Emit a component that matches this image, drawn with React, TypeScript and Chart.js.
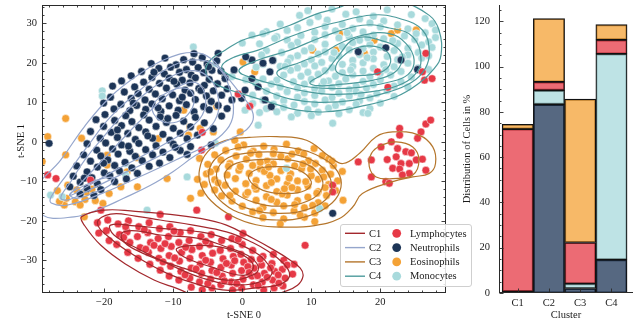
import { useEffect, useRef } from "react";
import { Chart, registerables } from "chart.js";

Chart.register(...registerables);

type Pt = [number, number];

const FONT = "'Liberation Serif', 'Times New Roman', serif";
const TEXT = "#1a1a1a";
const AXIS = "#2a2a2a";

// Cell types shown as scatter markers and as stacked bar segments
const cellTypes = ["Lymphocytes", "Neutrophils", "Eosinophils", "Monocytes"];
const cellColors = ["#e63946", "#1d3557", "#f4a236", "#a8dadc"];

// Clusters shown as density contours and as bar categories
const clusterNames = ["C1", "C2", "C3", "C4"];
const clusterColors = ["#a3282d", "#95a6cc", "#b5762c", "#4d9b9c"];

// Axis ticks
const xTicks = [-20, -10, 0, 10, 20];
const yTicks = [-30, -20, -10, 0, 10, 20, 30];
const barTicks = [0, 20, 40, 60, 80, 100, 120];
const barPositions = [0, 1, 2, 3];

// Composition of each cluster (% of cells), stacked bottom to top
const neutrophilPct = [0.6, 83.3, 2.0, 14.7];
const monocytePct = [0, 6.2, 2.1, 90.9];
const lymphocytePct = [71.8, 3.7, 18.2, 6.2];
const eosinophilPct = [2.1, 28.0, 63.3, 6.7];

// t-SNE embedding, one array per cell type
const lymphocytes: Pt[] = [
  [-21, -20.5], [-20.8, -23.1], [-19.5, -19.8], [-19.7, -22.5], [-19.3, -25], [-18, -20.8], [-17.8, -23.5], [-18.2, -26],
  [-16.5, -20], [-16.7, -22.8], [-16.3, -25.5], [-16.6, -28], [-15, -21.5], [-15.2, -24], [-14.8, -26.8], [-15.1, -29.5],
  [-13.5, -20.5], [-13.7, -23], [-13.3, -25.5], [-13.6, -28], [-13.4, -31], [-12, -22], [-12.2, -24.5], [-11.8, -27],
  [-12.1, -29.5], [-11.9, -32.5], [-10.5, -21.5], [-10.7, -24], [-10.3, -26.5], [-10.6, -28.8], [-10.4, -31.5], [-10.6, -34],
  [-9, -23], [-9.2, -25.5], [-8.8, -28], [-9.1, -30.2], [-8.9, -32.8], [-9.2, -35], [-7.5, -22.5], [-7.7, -25],
  [-7.3, -27.3], [-7.6, -29.5], [-7.4, -32], [-7.6, -34.5], [-7.4, -36.8], [-6, -24], [-6.2, -26.5], [-5.8, -28.8],
  [-6.1, -31], [-5.9, -33.3], [-6.2, -35.5], [-5.8, -37.5], [-4.5, -23.5], [-4.7, -26], [-4.3, -28.2], [-4.6, -30.5],
  [-4.4, -32.6], [-4.6, -34.8], [-4.4, -37], [-3, -25], [-3.2, -27.5], [-2.8, -29.6], [-3.1, -31.8], [-2.9, -34],
  [-3.1, -36.2], [-1.5, -24.5], [-1.7, -27], [-1.3, -29], [-1.6, -31.2], [-1.4, -33.3], [-1.6, -35.5], [-1.4, -37.5],
  [0, -26], [-0.2, -28.5], [0.2, -30.5], [-0.1, -32.6], [0.1, -34.8], [-0.1, -37], [1.5, -27.5], [1.3, -29.8],
  [1.7, -32], [1.4, -34], [1.6, -36.2], [3, -29], [2.8, -31.2], [3.2, -33.3], [2.9, -35.5], [3.1, -37.5],
  [4.5, -28.5], [4.3, -30.8], [4.7, -32.8], [4.4, -35], [4.6, -37], [6, -30], [5.8, -32.3], [6.2, -34.5],
  [5.9, -36.5], [7.5, -31], [7.3, -33.5], [-14.2, -22.3], [-11.2, -25.8], [-8.2, -26.7], [-5.3, -30], [-2.3, -30.8],
  [0.8, -31.6], [2.2, -33.9], [-3.7, -33.1], [-6.7, -32.2], [-9.8, -29.4], [-12.8, -26.2], [-0.8, -35.9], [2.3, -36.4],
  [5.2, -33.7], [-17.2, -24.2], [-20.5, -17.3], [-11.9, -18.4],
  [-1.1, -30.1], [1, -33.1], [3.6, -34.3], [-2.6, -35.2], [4.1, -31.9], [6.5, -31.2], [-5, -35.9], [-8.3, -33.7],
  [-11.5, -30.4], [-14, -27.2], [-16.9, -21.5], [-5.3, -25.2], [-0.6, -24.7], [2.6, -29.7], [5.3, -35.8], [-9.9, -22.6],
  [-6.6, -17.3], [-2, -19], [0.1, -23.2], [9.1, -26.2], [-28.2, -8.4], [-27, -9.3], [-22, -9.7], [-5.9, -2.1],
  [-5.8, 2.4], [1.1, 9], [-0.6, 12.1], [19.6, 17.7], [21.1, 13.8], [26.6, 22.4], [26.1, 17.7], [26.4, 15.6],
  [27.5, 16], [13.1, -11], [13.1, -12.7],
  [22.8, 3.4], [22.8, 1.7], [26.6, 4.5], [25.9, 2.5], [25.4, 0.9], [21.6, 0], [20.1, -1.3], [22.5, -1.7],
  [23.7, -2.5], [22.3, -3.8], [25.2, -4.6], [26.1, -4.4], [23, -5.5], [24.2, -5.5], [21.8, -6.7], [22.8, -6.9],
  [24.2, -8], [26.6, -7.2], [23.2, -8.4], [20.8, -10.1], [21.3, -10.5], [18.7, -8.9], [18.7, -4.6], [16.8, -5.1],
  [27.3, 5.5], [24.5, -2.8], [21, -4.5],
];

const neutrophils: Pt[] = [
  [-7, 22.3], [-3.5, 22.4], [-11.2, 21.2], [-8.5, 20.8], [-5.8, 21.3], [-13.2, 19.8], [-9.6, 19.5], [-7.2, 20.2],
  [-5.1, 19.7], [-3.7, 20.5], [-12.1, 18.6], [-10.4, 18.9], [-8.1, 18.3], [-6.4, 18.8], [-4.4, 18.1], [-14.6, 17.8],
  [-11.3, 17.2], [-9.1, 17.6], [-7.4, 16.9], [-5.6, 17.5], [-3.1, 17.9], [-16.1, 16.7], [-13.1, 16.3], [-10.6, 16.1],
  [-8.7, 15.6], [-6.8, 16.2], [-4.8, 15.8], [-2.5, 16.4], [-17.5, 15.4], [-14.3, 15.1], [-12, 14.8], [-9.5, 14.6],
  [-7.6, 14.9], [-5.5, 14.3], [-3.6, 14.7], [-18.8, 14.1], [-15.6, 13.9], [-13.5, 13.3], [-11, 13.6], [-8.3, 13.1],
  [-6.3, 13.5], [-4.2, 12.9], [-2.2, 13.4], [-17.1, 12.6], [-15.1, 12.2], [-12.6, 12.1], [-10.1, 11.9], [-7.5, 12.3],
  [-5.2, 11.6], [-3, 11.8], [-19.1, 11.3], [-16.1, 11], [-14.1, 10.6], [-11.6, 10.9], [-9.1, 10.4], [-6.8, 10.7],
  [-4.5, 10.2], [-1.5, 10.6], [-20.1, 9.8], [-17.6, 9.5], [-15.3, 9.2], [-13.1, 9.6], [-10.6, 9.1], [-8.1, 9.4],
  [-5.6, 8.9], [-3.5, 9.2], [-18.6, 8.3], [-16.3, 7.9], [-14, 8.2], [-11.8, 7.7], [-9.3, 8], [-7, 7.6],
  [-4.8, 8.1], [-2.2, 8.4], [-19.9, 6.9], [-16.9, 6.6], [-14.3, 6.8], [-11.9, 6.3], [-9.6, 6.7], [-6.8, 6.2],
  [-3, 6.5], [-21.2, 5.6], [-18.5, 5.4], [-16, 5.1], [-13.5, 5.5], [-11, 4.9], [-8.5, 5.2], [-5.5, 4.8],
  [-20.1, 3.9], [-17.5, 4.1], [-15, 3.6], [-12.5, 3.9], [-10, 3.4], [-7.5, 3.8], [-4.2, 3.3], [-22, 2.6],
  [-19, 2.4], [-16.6, 2.1], [-14, 2.5], [-11.5, 1.9], [-9, 2.2], [-6.5, 1.7], [-20.6, 0.9], [-18.1, 1.1],
  [-15.5, 0.6], [-13, 0.9], [-10.5, 0.4], [-8, 0.8], [-22.5, -0.5], [-19.8, -0.3], [-17.5, -0.8], [-15, -0.4],
  [-12.5, -1], [-10, -0.6], [-7.5, -1.2], [-4.5, -0.8], [-21.1, -2.1], [-18.8, -1.8], [-16.3, -2.4], [-14, -2],
  [-11.5, -2.6], [-9, -2.2], [-23, -3.3], [-20.5, -3.6], [-18, -3.1], [-15.5, -3.7], [-13, -3.3], [-10.5, -4],
  [-8, -3.2], [-22, -4.9], [-19.5, -4.6], [-17, -5.2], [-14.5, -4.8], [-12, -5.4], [-24, -6.1], [-21, -6.4],
  [-18.5, -6], [-16, -6.6], [-13.5, -6.2], [-22.5, -7.6], [-20, -7.9], [-17.8, -7.4], [-15.2, -8], [-24.5, -8.7],
  [-21.8, -9.1], [-19.2, -8.6], [-16.8, -9.4], [-23.5, -10.2], [-21, -10.6], [-18.5, -10.1], [-25, -11.4], [-22.5, -11.8],
  [-20.5, -12.1], [-23.5, -13.2], [-21.5, -13.6],
  [-12.8, 17.6], [-9.9, 15.3], [-6, 13], [-15.8, 9.8], [-12.2, 8.6], [-8.7, 11.3], [-18.1, 3], [-13.7, 1.5],
  [-9.7, -1.4], [-20.1, -5.4], [-16.5, -1.1], [-22.9, -9.2], [-10.8, 5.9],
  [1.4, 20.7], [3, 19.9], [4.4, 20.6], [4, 17.7], [1.4, 16], [2.3, 13.9], [0.4, 13.1], [3.3, 10.6],
  [4.2, 8.9], [-0.1, 11], [-2.5, 16], [-4.9, 19], [-1.2, 18.2], [0.5, 21.5],
  [16.8, 22.8], [20.8, 23.8], [23, 20.7], [25.4, 18.3], [-28, -0.4], [13.1, -18.1],
];

const eosinophils: Pt[] = [
  [0.2, -0.8], [3.1, -1.1], [6.4, -0.6], [-2.4, -2.2], [1.6, -2.4], [4.6, -1.9], [8.1, -2.3], [10.4, -1.7],
  [-4, -3.3], [-0.9, -3.6], [2.4, -3.2], [5.6, -3.7], [8.9, -3.1], [11.6, -3.5], [-3.1, -4.6], [0.6, -4.4],
  [3.6, -4.9], [6.6, -4.3], [9.6, -4.8], [12.5, -4.4], [-5, -5.7], [-1.8, -5.5], [1.5, -6], [4.5, -5.6],
  [7.6, -6.1], [10.6, -5.5], [13.2, -6], [-3.8, -6.9], [-0.5, -7.2], [2.6, -6.8], [5.6, -7.3], [8.6, -6.8],
  [11.6, -7.2], [-5.2, -8.1], [-2.2, -8.4], [1, -8], [4, -8.5], [7, -8.1], [10, -8.6], [12.8, -8.2],
  [-4, -9.6], [-1, -9.3], [2, -9.8], [5, -9.4], [8, -9.9], [11, -9.5], [13.8, -9.9], [-5.5, -10.8],
  [-2.5, -11], [0.5, -10.6], [3.5, -11.1], [6.5, -10.7], [9.5, -11.2], [12.5, -10.8], [-4, -12.2], [-1, -12.5],
  [2, -12], [5, -12.6], [8, -12.1], [11, -12.6], [13.5, -12.3], [-3, -13.7], [0.5, -13.4], [3.5, -13.9],
  [6.5, -13.5], [9.5, -14], [12.2, -13.6], [-1.5, -15], [2, -14.8], [5, -15.3], [8, -14.9], [11, -15.4],
  [0, -16.3], [3, -16.6], [6, -16.2], [9, -16.7], [12, -16.2], [1.5, -17.7], [4.5, -17.9], [7.5, -17.5],
  [10.5, -18], [3, -19.2], [6, -19.5], [9, -19.1], [-6.2, -4.2], [-6.5, -9.5], [-6, -13], [14.5, -7.5],
  [14.6, -14.8], [10.5, -20.2], [5.5, -20.8], [3.2, -7.5], [6.8, -9.2], [9.2, -10.1], [4.2, -10.3], [1.8, -11.3],
  [7.2, -11.6], [5.8, -13.2], [2.6, -5.2], [8.8, -5.6], [-0.3, -6.3], [10.8, -13], [4.5, -3],
  [1.2, -2.9], [7.2, -3.1], [-2, -6.2], [3.8, -6.4], [9.9, -6.9], [-3.5, -10.4], [0.8, -12.8], [6.1, -11.9],
  [12, -11.6], [4.2, -14.6], [10.2, -16.1], [7.6, -15.9], [-1.8, -13.6], [11.8, -8.9], [2.5, -17.4], [8.4, -18.6],
  [13, -4.9], [-4.6, -7.6],
  [-8.5, 8], [-3.7, 9], [-7.6, 3.8], [-7.8, 1.7], [-6.1, 3.4], [-4.2, 2.5], [-1.1, 0.4], [-0.6, -1.3],
  [-0.3, 2.5], [-12.2, 0.8], [-23.3, 0.9], [-25.6, 5.9], [-28.2, 1.3], [-29, -5], [-25.6, -3.3], [-19.6, -3.4],
  [-15.3, -4], [-10.9, -9.3], [-16.7, -7.6], [-15.2, -11.4], [-17.6, -11.4], [-19.6, -5.9], [-19.3, -13.1], [-7.5, -14.3],
  [-22.9, -19], [-25.8, -16],
  [-25.3, -11], [-24, -12.2], [-22.6, -12.8], [-26.8, -12.4], [-25.5, -14.3], [-24.2, -15.2], [-22.8, -14.6], [-21.3, -14.9],
  [-23.5, -16], [-20.2, -15.6], [-26.5, -15.1], [-21.8, -12],
  [14.1, 27.4], [10.2, 23.2], [13.6, 23.2], [17.7, 22.4], [19.1, 25.7], [21.6, 27.4], [22.5, 28.3], [25.2, 28.3],
  [0.1, 20.2], [1.8, 17.7],
];

const monocytes: Pt[] = [
  [9.5, 33.2], [13, 33.6], [16.5, 32.9], [21, 33.4], [8.3, 32], [11, 31.7], [15, 32.3], [19, 31.8],
  [24.5, 32.2], [12.3, 30.8], [17, 31.1], [20.5, 30.6], [26.5, 31.2], [5.5, 29.8], [9.8, 30.2], [14.5, 29.7],
  [18.5, 30.1], [22.5, 29.6], [27.5, 29.9], [8, 28.9], [12, 29.2], [16, 28.7], [20, 29.1], [24, 28.6],
  [28, 28.3], [3.5, 27.9], [6.5, 28.2], [10.5, 27.7], [13.5, 28.1], [17.5, 27.8], [26.5, 27.6], [1.4, 27],
  [3, 27.4], [5, 26.6], [8.5, 26.9], [12, 27.1], [15.5, 26.6], [19, 27], [23.5, 26.8], [28, 26.4],
  [4.7, 26.2], [6.5, 25.8], [10.5, 25.9], [14, 26.3], [17, 25.7], [20.5, 26.1], [25, 25.9], [27, 25.3],
  [0, 25], [2.5, 24.8], [8, 25.2], [12, 24.7], [16, 25.1], [18.5, 24.6], [22.5, 24.9], [26, 24.5],
  [-7.1, 24], [7.1, 24.4], [10, 23.8], [14.5, 24.1], [17.5, 23.6], [20, 24], [24, 23.7], [27.5, 23.9],
  [3.5, 23.1], [5.7, 22.6], [9, 23], [12, 22.8], [15.5, 23.3], [19, 22.7], [22, 23.1], [25.5, 22.6],
  [2.8, 22], [8, 21.8], [11, 22.2], [14, 21.7], [17, 22.1], [21, 21.6], [24, 22], [27, 21.8],
  [1, 21], [4.5, 20.7], [7, 21.2], [10, 20.8], [13, 21.1], [16, 20.6], [19, 21], [22.5, 20.8],
  [26, 21.2], [-3.9, 19.8], [3, 19.6], [6.6, 20.2], [9, 19.7], [11.5, 20.1], [14.5, 19.6], [17.5, 20],
  [20.5, 19.5], [24, 19.9], [2, 18.9], [5.5, 19.1], [8, 18.7], [10.5, 19.2], [13, 18.8], [16, 19.1],
  [19, 18.6], [22, 19], [25.5, 18.7], [4, 17.8], [7, 18.1], [9.5, 17.6], [12, 18], [14.5, 17.5],
  [17.5, 17.9], [20, 17.4], [23, 17.8], [27, 18.3], [-1.5, 16.5], [6, 16.9], [8.5, 16.6], [11, 17.1],
  [13.5, 16.6], [16, 17], [18.5, 16.5], [21.5, 16.9], [24.5, 16.4], [0.5, 15.7], [3, 15.9], [5, 15.6],
  [7.4, 15.2], [10, 15.8], [12.5, 15.4], [15, 15.9], [17.5, 15.3], [20, 15.7], [23, 15.2], [2, 14.8],
  [4.2, 14.6], [9, 14.6], [11.5, 14.2], [14, 14.7], [16.5, 14.1], [19, 14.5], [22, 14.1], [5.5, 13.9],
  [8, 13.6], [10.5, 13.4], [13, 13.8], [15.5, 13.2], [18, 13.6], [21, 13], [24, 13.9], [3.5, 12.8],
  [6.5, 12.7], [9, 12.4], [11.5, 12.8], [14, 12.3], [16.5, 12.7], [19.5, 12.2], [1.5, 11.8], [5, 11.6],
  [8, 11.3], [10.5, 11.7], [13, 11.2], [15.5, 11.6], [18.5, 11.1], [22, 11.5], [3, 10.6], [6, 10.4],
  [9, 10.2], [12, 10.6], [14.5, 10.1], [17, 10.4], [1.5, 9.7], [4.5, 9.5], [7.5, 9.3], [10.5, 9.6],
  [13.5, 9.2], [16.5, 9.5], [20, 9.8], [0.9, 8.9], [3.5, 8.4], [6, 8.7], [9.5, 8.2], [12.5, 8.5],
  [15.5, 8.1], [18.5, 8.4], [0.4, 8], [2.5, 7.4], [5, 7.6], [8, 7.2], [11, 7.5], [14, 7.1],
  [17.5, 7.4], [7.1, 6.3], [10, 6.6], [18.2, 7.2], [13.1, 4.7], [2.3, 4.2],
  [15.2, 27.6], [18.2, 26.3], [21.8, 25.6], [13.3, 22.6], [18.1, 21.3], [23.2, 21.5], [15.7, 18.2], [20.8, 18.3],
  [11.8, 15.2], [17.2, 12], [6.2, 19.1], [25.2, 27.4],
  [-20.3, 12.9], [-20.3, 11.6], [-27.8, -13.5], [-26.1, -13.9], [-16.9, -5.5], [-16.9, -8.4], [-13.8, -17.3], [-8, -8.9],
  [6.4, -6.7], [11.2, -16.9], [-3.9, -0.4],
];

// Density contour levels per cluster (outermost first), as closed outlines
const c1Levels: Pt[][] = [
  [[-23.3, -19], [-20, -17.3], [-15.5, -17.6], [-11.9, -18.1], [-6.1, -19.4], [-2.3, -21.1], [1.6, -24.5], [4.5, -27.3], [6.8, -29.8], [8.4, -32], [8.8, -34], [8, -36.3], [6, -38], [3, -39.5], [-5, -40], [-9.5, -37.1], [-12.8, -35], [-16.7, -31.2], [-20.5, -26.2], [-22.9, -21.1]],
  [[-21, -20.5], [-19.1, -18.3], [-15.5, -18.8], [-11.9, -19.8], [-7.1, -21.1], [-2.3, -22.8], [1.5, -25.5], [3.8, -27.8], [5.8, -30.5], [6.8, -33], [6.6, -34.8], [5.1, -36.3], [2.3, -36.9], [-2, -37.6], [-6.1, -36.3], [-10.9, -33.3], [-15.7, -28.7], [-19.1, -24.5]],
  [[-19.1, -21.1], [-15.5, -21.3], [-11.9, -21.9], [-6.1, -22.8], [-3.2, -24], [-0.1, -26.2], [2.5, -28.7], [3.8, -31.2], [4.3, -33.3], [3, -35.2], [-0.8, -36.2], [-5.6, -34.6], [-10.4, -31.2], [-15.2, -27], [-18.6, -23.6]],
  [[-17.4, -23], [-15, -22.6], [-11.9, -23.6], [-6.1, -24.5], [-2.5, -26.5], [0.8, -28.8], [2.3, -31.5], [1.8, -33.5], [-2.3, -35], [-8.5, -32], [-14.3, -28.3], [-17.2, -25.3]],
  [[-9.5, -27], [-6.1, -26.2], [-2.3, -27], [0.8, -29.5], [1.6, -32], [0.1, -33.8], [-4.6, -31.6], [-8.5, -29.1]],
];

const c2Levels: Pt[][] = [
  [[-29.8, -12], [-26.3, -4.6], [-22.9, 3.8], [-19.1, 11.4], [-14.8, 17.3], [-10.9, 21.1], [-7, 22.6], [-4.5, 21], [-2.5, 17], [-0.3, 12.2], [1.4, 8], [1.4, 4.8], [-0.5, 1.8], [-4.4, -1.3], [-6.8, -3.5], [-10, -7.5], [-13.3, -11], [-17.2, -14.3], [-20.5, -16.9], [-24.4, -19], [-29.2, -18.3]],
  [[-27.7, -13.9], [-25.3, -8], [-22.5, -1.3], [-19.1, 6.3], [-14.8, 13.1], [-10.4, 19], [-6.1, 20.7], [-3.2, 18.2], [-1.8, 13.1], [-1.3, 7.2], [-2.3, 3], [-5.1, -0.8], [-9.5, -4.5], [-14.8, -8.8], [-20.5, -13.2], [-25.3, -16], [-27.7, -15.5]],
  [[-26.3, -14.2], [-25, -10.5], [-22.8, -4.5], [-20, 1.5], [-17, 7.5], [-13.5, 13], [-10, 16.8], [-7, 18], [-4.8, 16.2], [-3.6, 12], [-3.5, 7.5], [-4.8, 3.5], [-8, 0], [-12.5, -4], [-17, -7.8], [-21.5, -11.6], [-25, -14.6]],
  [[-25, -13.6], [-23.5, -10.6], [-21, -6], [-18, -0.5], [-15, 5], [-12, 10], [-9, 14.2], [-6.8, 15], [-5.5, 12.5], [-5.5, 8], [-7.2, 4], [-10.5, 0.2], [-14.5, -3.6], [-18.5, -7.3], [-22, -10.8]],
  [[-13, 9], [-10.5, 12.8], [-8, 13.5], [-7, 11], [-7.6, 7.5], [-9.5, 5], [-12, 5.5]],
  [[-25, -13.3], [-23, -11.2], [-20.5, -9.4], [-18.6, -9.1], [-19.2, -11], [-21.5, -12.9], [-24, -14.3]],
];

const c3Levels: Pt[][] = [
  [[-6.2, -7], [-5, -2.5], [-2.5, 0.3], [1, 1.1], [5, 1.3], [9.3, 0.4], [12.7, -3.8], [14.6, -5.5], [17, -2.9], [19.4, 1.3], [21.8, 2.5], [25.6, 1.7], [27.6, -1.3], [28, -5.5], [27.1, -8], [24.7, -8.9], [21.8, -10.1], [17.4, -13.1], [16, -16.5], [14, -19.5], [10.5, -21.2], [6.2, -21.6], [2, -21], [-1.5, -18.8], [-4.5, -15], [-6, -11]],
  [[-4.7, -6.5], [-3, -3], [0, -1.4], [4, -1], [8, -1.8], [11.5, -4], [13.8, -7.5], [14.3, -11.5], [13, -15.5], [9.5, -18.8], [5, -19.8], [0.5, -18.5], [-2.8, -15.5], [-4.6, -11]],
  [[-3.6, -7], [-2, -4], [1, -2.8], [5, -2.6], [8.5, -3.6], [11.3, -6], [12.8, -9.5], [12.6, -13.5], [10, -16.8], [5.5, -18.1], [1, -17], [-2, -14.2], [-3.5, -10.5]],
  [[-2.4, -7.5], [-0.8, -5.4], [2.3, -4.5], [6, -4.5], [9.2, -5.6], [11.3, -8.5], [11.5, -12], [9.5, -15], [5.5, -16.3], [1.5, -15.2], [-1.2, -12.8], [-2.4, -10]],
  [[0.9, -9.3], [1.8, -7.2], [4.7, -6.3], [8, -7], [10, -10.1], [9, -12.4], [6.2, -13.1], [3, -12.3]],
  [[18.4, -6.3], [18.7, -3], [20, -1], [22.3, 0], [24.7, -1.3], [25.6, -4.6], [24.7, -8.4], [21.8, -9.3], [19.4, -8.9]],
];

const c4Levels: Pt[][] = [
  [[-5.3, 18.5], [-4.4, 21.1], [-2.5, 23.2], [0, 25.7], [3.5, 27.5], [6.9, 29.5], [10.5, 32.2], [14, 34], [16, 35.5], [19, 36.5], [23, 35.5], [27.1, 32], [28.5, 28.3], [28.8, 22], [27.8, 18.5], [25.6, 14.8], [22.3, 11.4], [17, 8.9], [12.2, 7.6], [8, 8], [3.8, 10.1], [-0.1, 12.2], [-3, 13.9], [-4.9, 16.1]],
  [[-3, 19], [-1.1, 21.5], [2.3, 23.2], [6.9, 26.6], [10, 28.5], [13.1, 30], [18.9, 32.1], [22.8, 31.2], [26.1, 28.3], [27.1, 23], [26.5, 18.5], [24.5, 15], [21, 12.5], [16, 10.5], [11, 10], [7, 10.8], [4, 12.5], [1.4, 14.8], [-1.5, 16.5]],
  [[-0.5, 18], [2, 20.5], [6.9, 23.2], [11.7, 26.6], [17.4, 29.5], [21.3, 28.8], [24.7, 26.6], [25.9, 20.7], [25, 17], [22.5, 14.2], [18, 12.5], [13, 12], [9, 12.8], [5.5, 14.2], [2, 15.8]],
  [[5, 17.5], [8.5, 20.2], [11.5, 22.3], [14.1, 24.9], [17.5, 27], [21.3, 27.4], [23.7, 24.9], [24.9, 20.7], [24, 17], [21, 15], [17, 13.8], [12.5, 13.5], [8, 14.5]],
  [[9.8, 15], [12, 17.5], [13.6, 21], [16.5, 26.2], [20.8, 25.3], [22.8, 23.2], [23.2, 20.7], [22, 17.5], [19, 15.6], [14.5, 14.6], [11, 14.2]],
  [[13.5, 18.5], [14.5, 21.5], [17, 24], [20, 23.8], [21.5, 21], [20.5, 18], [17.5, 16.8], [14.5, 17]],
];

const contourSets = [c1Levels, c2Levels, c3Levels, c4Levels];
const pointSets = [lymphocytes, neutrophils, eosinophils, monocytes];

const fmt = (v: number) => (v < 0 ? "\u2212" + Math.abs(v) : String(v));
const crisp = (v: number) => Math.round(v) + 0.5;
const withAlpha = (hex: string, a: number) => {
  const n = parseInt(hex.slice(1), 16);
  return `rgba(${(n >> 16) & 255},${(n >> 8) & 255},${n & 255},${a})`;
};
const line = (ctx: CanvasRenderingContext2D, x1: number, y1: number, x2: number, y2: number) => {
  ctx.beginPath();
  ctx.moveTo(x1, y1);
  ctx.lineTo(x2, y2);
  ctx.stroke();
};

const tickFont = { family: FONT, size: 10.5 };

// keep the plot area where the layout padding puts it (no extra room for edge labels)
const fixVertical = (width: number, top: number) => (s: any) => {
  s.width = width;
  s.paddingTop = top;
  s.paddingBottom = 0;
};
const fixHorizontal = (height: number) => (s: any) => {
  s.height = height;
  s.paddingLeft = 0;
  s.paddingRight = 0;
};

// Closes contour outlines into smooth loops, then draws frame, inward ticks and legend
const scatterDecor = {
  id: "scatterDecor",
  afterDatasetUpdate(chart: any, args: any) {
    const ds = chart.data.datasets[args.index];
    const el = args.meta.dataset;
    if (ds && ds.closedLoop && el) {
      el._loop = true;
      el._fullLoop = true;
      el._pointsUpdated = false;
      delete el._segments;
      delete el._path;
      el.updateControlPoints(chart.chartArea, "x");
    }
  },
  afterDraw(chart: any) {
    const { ctx, chartArea: a, scales } = chart;
    const xs = scales.x;
    const ys = scales.y;
    const L = crisp(a.left), R = crisp(a.right) - 1, T = crisp(a.top), B = crisp(a.bottom) - 1;
    ctx.save();
    ctx.strokeStyle = AXIS;
    ctx.lineWidth = 1;
    ctx.strokeRect(L, T, R - L, B - T);
    ctx.lineWidth = 0.9;
    for (let v = Math.ceil(xs.min / 2) * 2; v <= xs.max; v += 2) {
      const px = crisp(xs.getPixelForValue(v));
      const len = v % 10 === 0 ? 4 : 2;
      line(ctx, px, B, px, B - len);
      line(ctx, px, T, px, T + len);
    }
    for (let v = Math.ceil(ys.min / 2) * 2; v <= ys.max; v += 2) {
      const py = crisp(ys.getPixelForValue(v));
      const len = v % 10 === 0 ? 4 : 2;
      line(ctx, L, py, L + len, py);
      line(ctx, R, py, R - len, py);
    }
    // vertical axis title
    ctx.fillStyle = TEXT;
    ctx.font = `10.5px ${FONT}`;
    ctx.textAlign = "center";
    ctx.textBaseline = "middle";
    ctx.save();
    ctx.translate(21, 141);
    ctx.rotate(-Math.PI / 2);
    ctx.fillText("t-SNE 1", 0, 0);
    ctx.restore();

    // legend: contour lines (clusters) next to markers (cell types)
    const bx = 340.5, by = 224.5, bw = 131, bh = 62;
    ctx.beginPath();
    ctx.roundRect(bx, by, bw, bh, 2.5);
    ctx.fillStyle = "rgba(255,255,255,0.85)";
    ctx.fill();
    ctx.strokeStyle = "#cfcfcf";
    ctx.lineWidth = 1;
    ctx.stroke();
    ctx.textAlign = "left";
    clusterNames.forEach((name, i) => {
      const ry = 233.3 + i * 14.3;
      ctx.strokeStyle = clusterColors[i];
      ctx.lineWidth = 1.4;
      line(ctx, 345, ry, 365, ry);
      ctx.fillStyle = TEXT;
      ctx.fillText(name, 369, ry + 0.5);
      ctx.beginPath();
      ctx.arc(396.7, ry, 4.4, 0, Math.PI * 2);
      ctx.fillStyle = cellColors[i];
      ctx.fill();
      ctx.fillStyle = TEXT;
      ctx.fillText(cellTypes[i], 410, ry + 0.5);
    });
    ctx.restore();
  },
};

const barDecor = {
  id: "barDecor",
  afterDraw(chart: any) {
    const { ctx, chartArea: a, scales } = chart;
    const L = crisp(a.left), B = crisp(a.bottom) - 1, T = a.top, R = a.right;
    ctx.save();
    ctx.strokeStyle = AXIS;
    ctx.lineWidth = 1;
    line(ctx, L, T, L, B + 0.5);
    line(ctx, L - 0.5, B, R, B);
    ctx.lineWidth = 0.9;
    for (let v = 0; v <= scales.y.max; v += 5) {
      const py = crisp(scales.y.getPixelForValue(v));
      line(ctx, L, py, L + (v % 20 === 0 ? 4 : 2), py);
    }
    barPositions.forEach((p) => {
      const px = crisp(scales.x.getPixelForValue(p));
      line(ctx, px, B, px, B - 4);
    });
    ctx.restore();
  },
};

function scatterConfig(): any {
  const contourDatasets = contourSets.flatMap((levels, ci) =>
    levels.map((lvl) => ({
      type: "scatter",
      data: lvl.map(([x, y]) => ({ x, y })),
      closedLoop: true,
      showLine: true,
      fill: false,
      borderColor: clusterColors[ci],
      borderWidth: 1.2,
      pointRadius: 0,
      pointHoverRadius: 0,
      tension: 0.42,
      capBezierPoints: false,
      order: 0,
    }))
  );
  const drawOrder = [1, 2, 4, 3];
  const markerDatasets = pointSets.map((pts, i) => ({
    type: "scatter",
    label: cellTypes[i],
    data: pts.map(([x, y]) => ({ x, y })),
    backgroundColor: cellColors[i],
    borderColor: "#ffffff",
    borderWidth: 0.5,
    pointRadius: 3.9,
    pointHoverRadius: 3.9,
    clip: 0,
    order: drawOrder[i],
  }));
  return {
    type: "scatter",
    data: { datasets: [...contourDatasets, ...markerDatasets] },
    options: {
      responsive: false,
      animation: false,
      events: [],
      layout: { padding: { left: 0, top: 0, right: 34, bottom: 0 } },
      plugins: { legend: { display: false }, tooltip: { enabled: false } },
      scales: {
        x: {
          type: "linear",
          min: -29.03,
          max: 29.52,
          grid: { display: false, drawTicks: false },
          border: { display: false },
          afterBuildTicks: (s: any) => {
            s.ticks = xTicks.map((value) => ({ value }));
          },
          afterFit: fixHorizontal(30),
          ticks: { padding: 3.3, font: tickFont, color: TEXT, maxRotation: 0, autoSkip: false, callback: (v: number) => fmt(v) },
          title: { display: true, text: "t-SNE 0", font: tickFont, color: TEXT, padding: { top: 0, bottom: 1 } },
        },
        y: {
          type: "linear",
          min: -38.28,
          max: 34.63,
          grid: { display: false, drawTicks: false },
          border: { display: false },
          afterBuildTicks: (s: any) => {
            s.ticks = yTicks.map((value) => ({ value }));
          },
          afterFit: fixVertical(42, 5),
          ticks: { padding: 5, font: tickFont, color: TEXT, autoSkip: false, callback: (v: number) => fmt(v) },
        },
      },
    },
    plugins: [scatterDecor],
  };
}

function barConfig(): any {
  const stacks = [neutrophilPct, monocytePct, lymphocytePct, eosinophilPct];
  const stackTypes = [1, 3, 0, 2]; // index into cellTypes / cellColors
  return {
    type: "bar",
    data: {
      datasets: stacks.map((vals, k) => ({
        label: cellTypes[stackTypes[k]],
        data: vals.map((y, i) => ({ x: barPositions[i], y })),
        backgroundColor: withAlpha(cellColors[stackTypes[k]], 0.75),
        borderColor: "#111111",
        borderWidth: 1.2,
        borderSkipped: false,
        categoryPercentage: 1,
        barPercentage: 1,
      })),
    },
    options: {
      responsive: false,
      animation: false,
      events: [],
      layout: { padding: { left: 0, top: 0, right: 6, bottom: 0 } },
      plugins: { legend: { display: false }, tooltip: { enabled: false } },
      scales: {
        x: {
          type: "linear",
          stacked: true,
          offset: false,
          min: -0.6,
          max: 3.69,
          grid: { display: false, drawTicks: false },
          border: { display: false },
          afterBuildTicks: (s: any) => {
            s.ticks = barPositions.map((value) => ({ value }));
          },
          afterFit: fixHorizontal(30),
          ticks: { padding: 3.7, font: tickFont, color: TEXT, maxRotation: 0, autoSkip: false, callback: (v: number) => clusterNames[v] },
          title: { display: true, text: "Cluster", font: tickFont, color: TEXT, padding: { top: 0, bottom: 1.7 } },
        },
        y: {
          type: "linear",
          stacked: true,
          min: 0,
          max: 127.2,
          grid: { display: false, drawTicks: false },
          border: { display: false },
          afterBuildTicks: (s: any) => {
            s.ticks = barTicks.map((value) => ({ value }));
          },
          afterFit: fixVertical(59, 5),
          ticks: { padding: 9, font: tickFont, color: TEXT, autoSkip: false },
          title: { display: true, text: "Distribution of Cells in %", font: tickFont, color: TEXT, padding: { top: 21.4, bottom: 0 } },
        },
      },
    },
    plugins: [barDecor],
  };
}

export default function App() {
  const scatterRef = useRef<HTMLCanvasElement>(null);
  const barRef = useRef<HTMLCanvasElement>(null);

  useEffect(() => {
    const scatter = new Chart(scatterRef.current as HTMLCanvasElement, scatterConfig());
    const bars = new Chart(barRef.current as HTMLCanvasElement, barConfig());
    return () => {
      scatter.destroy();
      bars.destroy();
    };
  }, []);

  return (
    <div style={{ position: "absolute", left: 0, top: 0, width: 639, height: 323, background: "#ffffff", overflow: "hidden" }}>
      <canvas ref={scatterRef} width={480} height={323} style={{ position: "absolute", left: 0, top: 0, width: 480, height: 323 }} />
      <canvas ref={barRef} width={199} height={323} style={{ position: "absolute", left: 440, top: 0, width: 199, height: 323 }} />
    </div>
  );
}
